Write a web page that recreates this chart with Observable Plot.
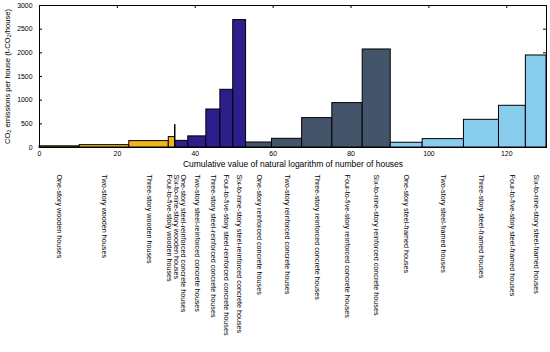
<!DOCTYPE html>
<html><head><meta charset="utf-8">
<script src="https://cdn.jsdelivr.net/npm/d3@7"></script>
<script src="https://cdn.jsdelivr.net/npm/@observablehq/plot@0.6"></script>
<style>body{margin:0;background:#fff}</style>
</head><body><div id="chart"></div>
<script>
const categories = [
  "One-story wooden houses","Two-story wooden houses","Three-story wooden houses",
  "Four-to-five-story wooden houses","Six-to-nine-story wooden houses",
  "One-story steel-reinforced concrete houses","Two-story steel-reinforced concrete houses",
  "Three-story steel-reinforced concrete houses","Four-to-five-story steel-reinforced concrete houses",
  "Six-to-nine-story steel-reinforced concrete houses",
  "One-story reinforced concrete houses","Two-story reinforced concrete houses",
  "Three-story reinforced concrete houses","Four-to-five-story reinforced concrete houses",
  "Six-to-nine-story reinforced concrete houses",
  "One-story steel-framed houses","Two-story steel-framed houses","Three-story steel-framed houses",
  "Four-to-five-story steel-framed houses","Six-to-nine-story steel-framed houses"
];
const groups = ["Wooden","Steel-reinforced concrete","Reinforced concrete","Steel-framed"];
const groupIndex = [0,0,0,0,0, 1,1,1,1,1, 2,2,2,2,2, 3,3,3,3,3];
// natural logarithm of number of houses (bar widths)
const logHouses = [10.3,12.76,10.14,1.6,0.12, 3.28,4.65,3.6,3.3,3.3, 6.65,7.75,7.75,7.8,7.2, 8.2,10.6,9.0,6.9,5.3];
// CO2 emissions per house (t-CO2/house)
const emissions = [25,50,135,220,473, 140,235,803,1219,2692, 106,184,621,938,2071, 100,177,585,881,1944];
const xTicks = [0,20,40,60,80,100,120];
const yTicks = [0,500,1000,1500,2000,2500,3000];
const groupColors = ["#f2b31c","#2d1f8b","#44546a","#89cdee"];
const xTitle = "Cumulative value of natural logarithm of number of houses";
const yTitle = "CO2 emissions per house (t-CO2/house)";

const W = 550, H = 352, mL = 39, mR = 4, mT = 5, mB = 205;
const ends = d3.cumsum(logHouses);
const xMax = ends[ends.length - 1];
const data = categories.map((c, i) => ({
  name: c, x1: ends[i] - logHouses[i], x2: ends[i], y: emissions[i],
  group: groups[groupIndex[i]], center: ends[i] - logHouses[i] / 2
}));

// spread crowded labels so they don't overlap
function spread(pos, gap) {
  let cl = pos.map(p => ({n: 1, mean: p, start: p}));
  let changed = true;
  while (changed) {
    changed = false;
    for (let i = 0; i < cl.length - 1; i++) {
      const a = cl[i], b = cl[i + 1];
      if (b.start - (a.start + (a.n - 1) * gap) < gap) {
        const n = a.n + b.n, mean = (a.mean * a.n + b.mean * b.n) / n;
        cl.splice(i, 2, {n, mean, start: mean - (n - 1) * gap / 2});
        changed = true; break;
      }
    }
  }
  return cl.flatMap(c => d3.range(c.n).map(k => c.start + k * gap));
}
const pxPerUnit = (W - mL - mR) / xMax;
const lx = spread(data.map(d => d.center), 7.2 / pxPerUnit);
data.forEach((d, i) => d.lx = lx[i]);

const plotH = H - mT - mB, plotW = W - mL - mR, tk = 3;
const font = "Liberation Sans, Arial, Helvetica, sans-serif";

const chart = Plot.plot({
  width: W, height: H, marginLeft: mL, marginRight: mR, marginTop: mT, marginBottom: mB,
  style: {fontFamily: font, fontSize: "6.8px", color: "black", background: "white"},
  x: {domain: [0, xMax]},
  y: {domain: [0, 3000]},
  color: {domain: groups, range: groupColors},
  marks: [
    Plot.tickX(xTicks, {x: d => d, insetTop: plotH - tk, stroke: "black"}),
    Plot.tickX(xTicks, {x: d => d, insetBottom: plotH - tk, stroke: "black"}),
    Plot.tickY(yTicks, {y: d => d, insetRight: plotW - tk, stroke: "black"}),
    Plot.tickY(yTicks, {y: d => d, insetLeft: plotW - tk, stroke: "black"}),
    Plot.rectY(data, {x1: "x1", x2: "x2", y: "y", fill: "group", stroke: "black", strokeWidth: 1}),
    Plot.frame({stroke: "black", strokeWidth: 1}),
    Plot.axisX({ticks: xTicks, tickSize: 0, tickPadding: 3.5, label: null, fontSize: 6.9}),
    Plot.axisY({ticks: yTicks, tickSize: 0, tickPadding: 7, label: null, fontSize: 6.9, tickFormat: d => String(d)}),
    Plot.text(data, {x: "lx", frameAnchor: "bottom", dy: 27, rotate: 90, textAnchor: "start",
      lineAnchor: "middle", text: "name", fontSize: 7.2, fill: "black"}),
    Plot.text([xTitle], {frameAnchor: "bottom", dy: 16.5, text: d => d, fontSize: 8.5, fill: "black",
      textAnchor: "middle", lineAnchor: "middle"}),
    Plot.text([yTitle], {frameAnchor: "left", dx: -32, rotate: -90, text: d => d, fontSize: 7.6, fill: "black",
      textAnchor: "middle", lineAnchor: "middle"})
  ]
});

// subscript 2 in CO2
d3.select(chart).selectAll("text").filter(function() { return this.textContent === yTitle; })
  .each(function() {
    const t = d3.select(this);
    t.text(null);
    const parts = [["CO", false], ["2", true], [" emissions per house (t-CO", false], ["2", true], ["/house)", false]];
    for (const [s, sub] of parts) {
      const ts = t.append("tspan").text(s);
      if (sub) ts.attr("font-size", "5.4px").attr("dy", "0.22em");
      else if (s !== "CO") ts.attr("dy", "-0.16em");
    }
  });

document.getElementById("chart").appendChild(chart);
</script>
</body></html>
